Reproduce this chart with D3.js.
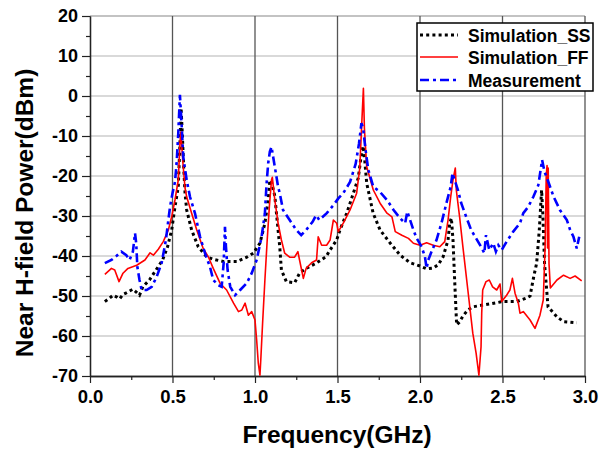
<!DOCTYPE html>
<html>
<head>
<meta charset="utf-8">
<script src="https://cdn.jsdelivr.net/npm/d3@7"></script>
<style>
    body { margin: 0; background: #fff; }
    text { font-family: "Liberation Sans", Arial, sans-serif; font-weight: bold; fill: #000; }
</style>
</head>
<body>
<div id="chart"></div>
<script>
// ---- data: [frequency GHz, power dBm] ----
const simSS = [
    [0.09,-51.4],[0.12,-50.5],[0.14,-49.8],[0.16,-50.2],[0.18,-50.7],[0.2,-49.6],[0.22,-49.2],[0.26,-48.3],
    [0.28,-49],[0.30,-49.8],[0.32,-47.7],[0.36,-46],[0.40,-43.5],[0.44,-41],[0.47,-37.7],[0.495,-33.5],
    [0.515,-27.7],[0.535,-22.7],[0.545,-12],[0.552,-3],[0.56,-10],[0.568,-18],[0.576,-24.3],[0.586,-28.5],
    [0.616,-33.5],[0.656,-37.7],[0.707,-40.2],[0.747,-40.8],[0.81,-41.4],[0.889,-41.4],[0.95,-40.3],
    [0.99,-39.3],[1.03,-36.8],[1.06,-31.8],[1.08,-26],[1.09,-21],[1.10,-21.5],[1.12,-25],[1.13,-29.3],
    [1.15,-37.7],[1.16,-43.5],[1.19,-46.4],[1.24,-46.7],[1.27,-44.3],[1.31,-43.1],[1.37,-41.8],[1.43,-40.2],
    [1.455,-38.5],[1.495,-36],[1.515,-33.5],[1.556,-29.3],[1.596,-24.3],[1.626,-20.5],[1.64,-16],[1.655,-12.5],
    [1.665,-16],[1.677,-21.8],[1.716,-29.3],[1.758,-33.5],[1.82,-36.8],[1.88,-39.8],[1.94,-41.7],[2.0,-42.5],
    [2.04,-43.2],[2.08,-43],[2.11,-42.2],[2.14,-40.2],[2.17,-36],[2.18,-31.8],[2.19,-30.5],[2.2,-36],
    [2.21,-46],[2.222,-57.2],[2.24,-56.5],[2.26,-55],[2.29,-53.5],[2.32,-52.7],[2.42,-52],[2.5,-51.4],
    [2.586,-51.4],[2.646,-50.5],[2.667,-50],[2.69,-45],[2.707,-41.8],[2.723,-33.5],[2.737,-23.5],[2.745,-30],
    [2.755,-42],[2.776,-52.7],[2.83,-55.2],[2.87,-56.4],[2.95,-56.7]
];

const simFF = [
    [0.09,-44.6],[0.13,-43.1],[0.15,-43.5],[0.176,-46.4],[0.2,-44.3],[0.23,-43.1],[0.283,-42.3],[0.333,-41],
    [0.364,-39.2],[0.384,-39.8],[0.414,-38.3],[0.444,-36.4],[0.475,-33.5],[0.495,-30.2],[0.515,-26],
    [0.535,-21],[0.545,-12],[0.55,-9],[0.557,-13],[0.565,-17.7],[0.576,-23],[0.586,-25.2],[0.616,-29.3],
    [0.647,-33.5],[0.686,-38.1],[0.717,-40.2],[0.747,-43.1],[0.788,-46.8],[0.828,-48.5],[0.87,-51.8],
    [0.9,-53.9],[0.92,-53.5],[0.94,-51.8],[0.96,-54.8],[0.98,-53.9],[1.0,-56],[1.01,-61],[1.02,-66.8],
    [1.03,-69.8],[1.036,-65.2],[1.046,-56.8],[1.06,-46],[1.074,-36],[1.087,-27.7],[1.1,-21],[1.105,-20.3],
    [1.12,-26],[1.14,-31.8],[1.16,-36],[1.18,-39.3],[1.21,-40.3],[1.24,-40.3],[1.26,-38.9],[1.27,-41],
    [1.293,-45.6],[1.31,-43.1],[1.343,-41.7],[1.373,-41],[1.383,-35.2],[1.404,-37.3],[1.434,-37.3],
    [1.455,-36],[1.475,-31],[1.495,-31.8],[1.505,-33.9],[1.535,-31.8],[1.576,-28.5],[1.616,-24.3],
    [1.635,-18],[1.648,-6],[1.657,1.9],[1.663,-8],[1.677,-17.7],[1.717,-23.5],[1.758,-26.8],[1.8,-29.3],
    [1.83,-30.2],[1.85,-33.9],[1.89,-34.8],[1.93,-35.6],[1.96,-36.8],[2.0,-37.3],[2.04,-36.7],[2.08,-37.3],
    [2.12,-37.7],[2.15,-36.4],[2.17,-31],[2.186,-25.2],[2.2,-21],[2.214,-18],[2.22,-23.5],[2.24,-30.2],
    [2.26,-37.7],[2.29,-48.5],[2.32,-59.3],[2.34,-64.3],[2.357,-69.8],[2.37,-62.7],[2.374,-54.3],
    [2.38,-48.5],[2.4,-46.4],[2.42,-46],[2.44,-47.7],[2.465,-48.5],[2.485,-47],[2.495,-51.4],[2.525,-49.8],
    [2.545,-48.5],[2.56,-45.6],[2.576,-49.3],[2.596,-51.8],[2.606,-54.3],[2.626,-53.9],[2.667,-56],
    [2.697,-58.1],[2.727,-54.8],[2.747,-51],[2.758,-38],[2.765,-20],[2.77,-17.4],[2.773,-38],[2.777,-18],
    [2.782,-42],[2.79,-48],[2.83,-46],[2.87,-44.8],[2.91,-45.6],[2.94,-45],[2.98,-46.2]
];

const measurement = [
    [0.09,-41.8],[0.13,-41],[0.16,-40],[0.19,-38.9],[0.22,-39.8],[0.24,-41],[0.26,-38.9],[0.273,-34.3],
    [0.28,-36.8],[0.287,-42.7],[0.3,-46],[0.313,-48.5],[0.343,-48.5],[0.374,-47.7],[0.404,-45.2],
    [0.434,-41.8],[0.46,-36],[0.475,-31],[0.485,-27.7],[0.5,-24.3],[0.515,-21.5],[0.525,-16.8],[0.535,-9.3],
    [0.545,0.3],[0.556,-7.7],[0.565,-15.2],[0.586,-21],[0.606,-25.2],[0.636,-29.3],[0.667,-35.2],
    [0.697,-39.3],[0.727,-42.7],[0.747,-46],[0.778,-47.3],[0.798,-47.7],[0.81,-41.8],[0.818,-32.7],
    [0.824,-37.7],[0.834,-43.5],[0.85,-47.7],[0.879,-49.8],[0.91,-48.5],[0.95,-46.8],[0.98,-44.3],
    [1.01,-41],[1.04,-35.2],[1.06,-29.3],[1.07,-22],[1.08,-16.8],[1.09,-13.9],[1.1,-12.7],[1.11,-15.2],
    [1.12,-17.7],[1.14,-22.7],[1.15,-24.3],[1.17,-28.5],[1.21,-31],[1.25,-33.5],[1.28,-34.8],[1.31,-33.5],
    [1.35,-31.4],[1.37,-29.8],[1.39,-31],[1.435,-29.3],[1.475,-27.3],[1.505,-25.6],[1.535,-24.3],
    [1.576,-21.5],[1.61,-17],[1.63,-12],[1.645,-6.8],[1.655,-8],[1.67,-13.5],[1.687,-18.5],[1.717,-22.7],
    [1.758,-24],[1.8,-26],[1.84,-28.5],[1.88,-30.6],[1.91,-31.8],[1.923,-28.9],[1.94,-31],[1.96,-33.5],
    [1.98,-35.6],[2.01,-37.7],[2.03,-40.2],[2.04,-43.1],[2.05,-41],[2.07,-38.9],[2.1,-36],[2.13,-31.8],
    [2.16,-26.8],[2.186,-22.7],[2.197,-19.3],[2.21,-21],[2.23,-23.5],[2.25,-26.8],[2.28,-30.2],[2.31,-33.5],
    [2.34,-35.6],[2.37,-37.7],[2.39,-39.3],[2.4,-34.8],[2.42,-38.5],[2.444,-36.8],[2.46,-38.9],
    [2.475,-37.3],[2.495,-38.5],[2.525,-36.4],[2.565,-33.9],[2.606,-31.8],[2.626,-29.3],[2.656,-27.7],
    [2.687,-25.2],[2.717,-22.3],[2.74,-16],[2.755,-19],[2.767,-20.2],[2.81,-25.2],[2.848,-28.5],
    [2.89,-31],[2.91,-33.5],[2.93,-35.2],[2.95,-38.1],[2.965,-35.2]
];

const xTicks = [0, 0.5, 1.0, 1.5, 2.0, 2.5, 3.0];
const xMinorTicks = [0.25, 0.75, 1.25, 1.75, 2.25, 2.75];
const yTicks = [20, 10, 0, -10, -20, -30, -40, -50, -60, -70];
const yMinorTicks = [15, 5, -5, -15, -25, -35, -45, -55, -65];
const seriesNames = ["Simulation_SS", "Simulation_FF", "Measurement"];

// ---- layout ----
const width = 610, height = 451;
const plot = { left: 90, right: 585, top: 16, bottom: 376 };

const svg = d3.select("#chart").append("svg")
    .attr("width", width)
    .attr("height", height);

const x = d3.scaleLinear().domain([0, 3]).range([plot.left, plot.right]);
const y = d3.scaleLinear().domain([-70, 20]).range([plot.bottom, plot.top]);

// horizontal grid (light)
svg.append("g").selectAll("line")
    .data(yTicks.filter(d => d > -70))
    .enter().append("line")
    .attr("x1", plot.left).attr("x2", plot.right)
    .attr("y1", d => y(d)).attr("y2", d => y(d))
    .attr("stroke", d => d === 20 ? "#888" : "#b4b4b4")
    .attr("stroke-width", 1.2);

// vertical grid (dark)
svg.append("g").selectAll("line")
    .data(xTicks.filter(d => d > 0))
    .enter().append("line")
    .attr("x1", d => x(d)).attr("x2", d => x(d))
    .attr("y1", plot.top).attr("y2", plot.bottom)
    .attr("stroke", "#555")
    .attr("stroke-width", 1.3);

// axes
const yAxis = svg.append("g")
    .attr("transform", `translate(${plot.left},0)`)
    .call(d3.axisLeft(y).tickValues(yTicks).tickSize(8).tickSizeOuter(0).tickPadding(4).tickFormat(d => String(d)));
svg.append("g")
    .attr("transform", `translate(${plot.left},0)`)
    .call(d3.axisLeft(y).tickValues(yMinorTicks).tickSize(4).tickSizeOuter(0).tickFormat(""));

const xAxis = svg.append("g")
    .attr("transform", `translate(0,${plot.bottom})`)
    .call(d3.axisBottom(x).tickValues(xTicks).tickSize(7).tickSizeOuter(0).tickPadding(7).tickFormat(d3.format(".1f")));
svg.append("g")
    .attr("transform", `translate(0,${plot.bottom})`)
    .call(d3.axisBottom(x).tickValues(xMinorTicks).tickSize(4).tickSizeOuter(0).tickFormat(""));

svg.selectAll(".domain").attr("stroke", "#222").attr("stroke-width", 1.3);
svg.selectAll(".tick line").attr("stroke", "#222").attr("stroke-width", 1.2);
yAxis.selectAll("text").style("font-size", "18px").attr("fill", "#000");
xAxis.selectAll("text").style("font-size", "18.5px").attr("fill", "#000");

// series lines
const line = d3.line().x(d => x(d[0])).y(d => y(d[1]));

svg.append("path").datum(simSS)
    .attr("d", line)
    .attr("fill", "none")
    .attr("stroke", "#000")
    .attr("stroke-width", 3)
    .attr("stroke-dasharray", "3,3.2");

svg.append("path").datum(simFF)
    .attr("d", line)
    .attr("fill", "none")
    .attr("stroke", "#ff0000")
    .attr("stroke-width", 1.6)
    .attr("stroke-linejoin", "round");

svg.append("path").datum(measurement)
    .attr("d", line)
    .attr("fill", "none")
    .attr("stroke", "#0000ff")
    .attr("stroke-width", 2.6)
    .attr("stroke-dasharray", "9,4,3,4");

// axis titles
svg.append("text")
    .attr("x", 337).attr("y", 443)
    .attr("text-anchor", "middle")
    .style("font-size", "24.5px")
    .text("Frequency(GHz)");

svg.append("text")
    .attr("transform", "translate(33,213) rotate(-90)")
    .attr("text-anchor", "middle")
    .style("font-size", "24.5px")
    .text("Near H-field Power(dBm)");

// legend
const legend = svg.append("g");
legend.append("rect")
    .attr("x", 417).attr("y", 23)
    .attr("width", 176).attr("height", 68)
    .attr("fill", "#fff")
    .attr("stroke", "#000")
    .attr("stroke-width", 1.5);

const legendStyles = [
    { stroke: "#000", width: 3, dash: "3,3.2" },
    { stroke: "#ff0000", width: 1.6, dash: null },
    { stroke: "#0000ff", width: 2.6, dash: "9,4,3,4" }
];
const legendRows = [35, 57, 80];

seriesNames.forEach((name, i) => {
    legend.append("line")
        .attr("x1", 420).attr("x2", 458)
        .attr("y1", legendRows[i]).attr("y2", legendRows[i])
        .attr("stroke", legendStyles[i].stroke)
        .attr("stroke-width", legendStyles[i].width)
        .attr("stroke-dasharray", legendStyles[i].dash);
    legend.append("text")
        .attr("x", 468).attr("y", legendRows[i] + 6.5)
        .style("font-size", "17.5px")
        .text(name);
});
</script>
</body>
</html>
